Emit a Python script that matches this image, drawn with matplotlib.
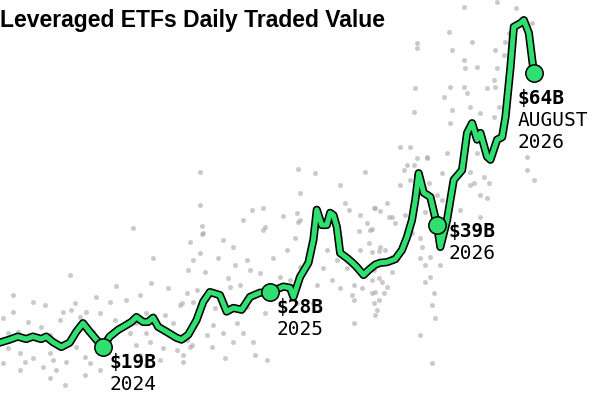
import matplotlib
matplotlib.use("Agg")
import matplotlib.pyplot as plt
import matplotlib.patheffects as pe

title = "Leveraged ETFs Daily Traded Value"

# Line: time (fractional year) and daily traded value ($B)
line_year = [2023.38, 2023.44, 2023.49, 2023.54, 2023.58, 2023.63, 2023.66, 2023.70,
             2023.75, 2023.80, 2023.84, 2023.88, 2023.92, 2023.96, 2024.00, 2024.04,
             2024.09, 2024.14, 2024.17, 2024.20, 2024.24, 2024.27, 2024.30, 2024.33,
             2024.38, 2024.44, 2024.47, 2024.51, 2024.56,
             2024.60, 2024.64, 2024.70, 2024.74, 2024.78, 2024.83, 2024.88, 2024.94,
             2025.00, 2025.08, 2025.12, 2025.14, 2025.18, 2025.23, 2025.26, 2025.28,
             2025.31, 2025.34, 2025.36, 2025.38, 2025.40, 2025.42, 2025.46, 2025.49,
             2025.52, 2025.56, 2025.59, 2025.63, 2025.66, 2025.70, 2025.75, 2025.79,
             2025.82, 2025.85, 2025.87, 2025.89, 2025.92,
             2025.96, 2026.00, 2026.02, 2026.06, 2026.10, 2026.15, 2026.18, 2026.21,
             2026.24, 2026.26, 2026.30, 2026.32, 2026.36, 2026.39, 2026.41, 2026.44,
             2026.46, 2026.50, 2026.52, 2026.55, 2026.57, 2026.58]
line_value = [19.7, 20.2, 20.7, 20.3, 20.7, 20.3, 20.7, 19.8,
              19.0, 19.7, 21.5, 22.9, 21.5, 20.2, 19.0, 20.7,
              21.8, 22.6, 23.1, 23.9, 23.1, 23.1, 23.8, 22.3,
              21.5, 20.5, 20.2, 21.0, 23.4,
              26.4, 28.0, 27.5, 24.8, 25.4, 25.1, 27.2, 27.9,
              28.0, 28.9, 28.7, 27.2, 30.5, 32.8, 36.6, 41.5,
              39.0, 39.0, 41.0, 40.6, 38.7, 34.4, 33.6, 32.9,
              32.1, 30.8, 31.6, 32.5, 32.8, 32.9, 33.4, 34.9,
              37.0, 39.8, 43.1, 47.5, 44.3,
              43.6, 39.0, 35.4, 39.8, 46.4, 48.0, 54.1, 55.7,
              53.0, 54.1, 50.2, 49.7, 53.0, 53.4, 56.7, 64.9,
              71.5, 72.1, 72.6, 70.5, 66.1, 64.0]

# Highlighted points
mark_year = [2024.00, 2025.00, 2026.00, 2026.58]
mark_value = [19, 28, 39, 64]
mark_amount = ["$19B", "$28B", "$39B", "$64B"]
mark_period = ["2024", "2025", "2026", "AUGUST\n2026"]

# Background scatter of daily values (year, $B)
dots_year = [
    2023.80, 2024.08, 2024.29, 2024.39, 2024.56, 2023.46, 2023.58, 2023.65, 2023.83, 2023.96,
    2024.04, 2024.14, 2024.22, 2024.46, 2024.54, 2023.46, 2023.76, 2023.81, 2023.90, 2023.98,
    2024.26, 2024.37, 2023.40, 2023.55, 2023.63, 2023.74, 2023.86, 2024.07, 2024.20, 2024.33,
    2024.42, 2023.43, 2023.49, 2023.68, 2023.94, 2024.16, 2024.26, 2023.43, 2023.50, 2023.58,
    2023.68, 2023.70, 2023.84, 2023.89, 2024.20, 2024.28, 2024.36, 2024.44, 2024.53, 2023.40,
    2023.53, 2023.64, 2023.78, 2023.92, 2024.22, 2024.34, 2024.48, 2023.72, 2023.50, 2023.98,
    2023.89, 2024.26, 2023.68, 2023.77,
    2024.58, 2025.27, 2025.57, 2025.18, 2025.42, 2024.58, 2024.89, 2025.16, 2025.45, 2025.62,
    2024.84, 2024.97, 2025.18, 2025.54, 2024.60, 2024.72, 2024.96, 2025.15, 2025.42, 2025.58,
    2024.52, 2024.78, 2025.10, 2025.34, 2025.54, 2024.54, 2024.69, 2024.86, 2025.02, 2024.79,
    2024.88, 2025.18, 2025.32, 2025.40, 2025.46, 2025.62, 2024.51, 2024.61, 2024.75, 2024.94,
    2025.06, 2025.37, 2025.50, 2025.55, 2025.61, 2024.76, 2024.82, 2024.91, 2025.12, 2025.28,
    2025.42, 2025.49, 2025.61, 2024.50, 2024.60, 2024.67, 2024.86, 2024.97, 2025.16, 2025.26,
    2025.50, 2025.63, 2024.47, 2024.56, 2024.66, 2024.80, 2024.72, 2024.84, 2024.78, 2024.62,
    2024.50, 2024.52, 2024.65, 2024.90, 2024.73, 2024.48, 2024.91, 2024.98, 2025.50, 2025.62,
    2025.17, 2024.18, 2024.59, 2024.59, 2024.58, 2024.30, 2024.96, 2025.08, 2025.17, 2025.47,
    2025.53, 2025.61, 2025.63, 2025.70, 2025.66, 2025.71, 2025.73, 2025.75, 2025.59, 2025.65,
    2025.86, 2025.82, 2025.80, 2026.03, 2025.94, 2026.06, 2026.20, 2026.20, 2026.28, 2026.22,
    2026.31, 2026.26, 2026.30, 2026.54, 2026.54, 2026.58, 2025.78, 2025.84, 2025.95, 2026.00,
    2026.03, 2025.81, 2025.93, 2026.14, 2025.60, 2025.85, 2025.90, 2026.26, 2025.66, 2025.69,
    2025.91, 2025.61, 2025.73, 2025.90, 2025.96, 2025.93, 2026.02, 2025.73, 2025.65, 2025.67,
    2025.96, 2025.93, 2025.70, 2025.63, 2025.68, 2025.65, 2025.98, 2025.97, 2025.64, 2025.99,
    2025.90, 2025.97,
    2026.16, 2026.47, 2026.36, 2026.07, 2025.88, 2025.88, 2026.09, 2026.21, 2026.43, 2026.41,
    2026.57, 2026.16, 2026.17, 2026.24, 2026.35, 2026.36, 2026.40, 2025.87, 2026.08, 2026.16,
    2026.18, 2026.30, 2026.34, 2026.35, 2026.04, 2026.20, 2026.09, 2025.86, 2026.26, 2026.34,
    2026.37, 2026.08, 2025.78, 2025.84, 2025.88, 2025.94, 2026.24,
]
dots_value = [
    30.8, 29.0, 29.5, 28.7, 28.4, 27.5, 26.4, 25.9, 26.2, 27.2,
    26.4, 26.7, 27.5, 25.9, 26.4, 24.7, 24.7, 25.1, 24.7, 24.6,
    24.6, 24.3, 23.8, 23.1, 22.3, 23.4, 23.9, 23.4, 22.9, 22.6,
    22.9, 21.3, 21.5, 21.0, 21.5, 21.3, 21.3, 18.8, 18.0, 17.2,
    18.0, 16.9, 19.0, 17.4, 19.3, 19.8, 18.8, 18.5, 19.3, 16.4,
    16.6, 15.7, 16.6, 16.4, 17.7, 16.9, 17.7, 15.2, 15.2, 15.2,
    14.4, 16.1, 13.9, 12.8,
    47.7, 47.5, 47.7, 44.3, 45.6, 42.3, 41.5, 41.0, 42.6, 41.8,
    39.8, 38.7, 39.8, 40.6, 37.7, 36.5, 38.2, 36.9, 37.0, 39.3,
    36.2, 35.4, 34.9, 34.9, 34.9, 33.3, 33.6, 33.3, 33.6, 32.5,
    31.6, 32.1, 32.0, 33.3, 32.0, 31.6, 31.6, 31.3, 30.3, 31.1,
    30.5, 30.0, 29.2, 28.7, 30.0, 28.8, 29.2, 27.9, 30.0, 29.2,
    28.7, 27.5, 27.9, 27.9, 26.7, 25.4, 25.6, 24.6, 26.2, 26.2,
    26.7, 24.3, 26.2, 23.9, 22.6, 22.9, 21.3, 21.3, 19.8, 21.0,
    20.2, 19.0, 19.0, 19.8, 17.2, 16.6, 17.7, 16.9, 22.9, 26.2,
    48.2, 38.5, 38.8, 37.5, 34.4, 33.6, 41.8, 40.5, 39.5, 41.5,
    38.0, 38.4, 41.8, 42.6, 41.3, 40.3, 40.3, 39.3, 36.1, 34.7,
    48.8, 48.8, 48.0, 47.5, 50.0, 50.8, 47.7, 45.6, 46.9, 45.9,
    45.9, 43.9, 43.4, 50.2, 48.0, 46.4, 45.6, 46.4, 45.9, 43.9,
    43.1, 40.6, 41.1, 41.5, 38.2, 37.7, 36.9, 40.3, 35.4, 34.9,
    35.4, 34.6, 33.8, 33.6, 33.8, 32.5, 32.5, 31.3, 30.3, 29.7,
    30.5, 29.7, 28.8, 28.0, 27.9, 26.7, 27.9, 25.9, 25.1, 23.8,
    21.0, 16.4,
    74.7, 74.6, 75.6, 70.6, 68.8, 68.0, 67.7, 69.0, 70.5, 69.0,
    72.1, 66.1, 64.7, 64.9, 67.7, 64.7, 66.9, 61.5, 61.6, 61.6,
    60.6, 61.5, 62.8, 61.6, 60.0, 58.3, 57.9, 57.5, 57.4, 56.7,
    58.3, 55.7, 51.8, 51.8, 50.0, 50.2, 50.8,
]

GREEN = "#2fe070"

fig = plt.figure(figsize=(6, 4), dpi=100)
ax = fig.add_axes([0, 0, 1, 1])
ax.set_xlim(2023.383, 2026.976)
ax.set_ylim(10.3, 75.9)
ax.axis("off")

ax.scatter(dots_year, dots_value, s=13, color="#a8a8a8", alpha=0.6,
           linewidths=0, zorder=1)

ax.plot(line_year, line_value, color=GREEN, lw=3.6, solid_joinstyle="round",
        solid_capstyle="round", zorder=3,
        path_effects=[pe.Stroke(linewidth=5.9, foreground="black"), pe.Normal()])

ax.plot(mark_year, mark_value, "o", ms=12.5, mfc=GREEN, mec="black", mew=1.1,
        zorder=4)

offsets = [(5, -4), (5, -4), (8, 2), (-12, -12)]
for xv, yv, amt, per, off in zip(mark_year, mark_value, mark_amount,
                                 mark_period, offsets):
    ax.annotate(amt, (xv, yv), xytext=off, textcoords="offset points",
                ha="left", va="top", fontsize=14, fontweight="bold",
                family="DejaVu Sans Mono", color="black", zorder=5)
    ax.annotate(per, (xv, yv), xytext=(off[0], off[1] - 16),
                textcoords="offset points", ha="left", va="top",
                fontsize=14, family="DejaVu Sans Mono", color="black",
                linespacing=1.15, zorder=5)

fig.text(0.0, 0.948, title, ha="left", va="center", fontsize=16.5,
         fontweight="bold", family="Liberation Sans", color="black")

fig.savefig("out.png", dpi=100)
